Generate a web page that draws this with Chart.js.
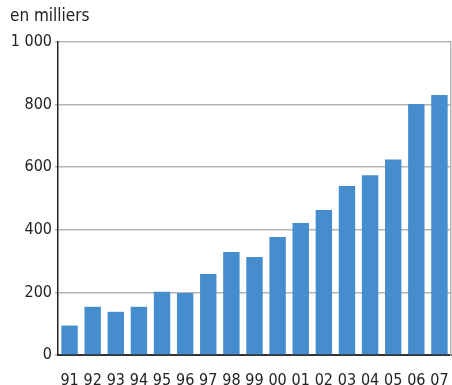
<!DOCTYPE html>
<html>
<head>
<meta charset="utf-8">
<script src="https://cdn.jsdelivr.net/npm/chart.js@4"></script>
<style>
  html, body { margin: 0; padding: 0; background: #fff; }
  #wrap { position: relative; width: 452px; height: 385px; }
  #unit {
    position: absolute; left: 10px; top: 5px;
    font: 17px 'Liberation Sans Narrow', 'DejaVu Sans Condensed', sans-serif;
    color: #222;
  }
</style>
</head>
<body>
<div id="wrap">
  <canvas id="c" width="452" height="385"></canvas>
  <div id="unit">en milliers</div>
</div>
<script>
// Values, in thousands
const years = ['91', '92', '93', '94', '95', '96', '97', '98', '99',
               '00', '01', '02', '03', '04', '05', '06', '07'];
const values = [94, 154, 138, 154, 202, 198, 259, 329, 313,
                377, 422, 463, 540, 574, 625, 802, 831];
const yTicks = [0, 200, 400, 600, 800, 1000];

const FONT = "'Liberation Sans Narrow', 'DejaVu Sans Condensed', sans-serif";
const BAR = '#468dcd';

new Chart(document.getElementById('c'), {
  type: 'bar',
  data: {
    labels: years,
    datasets: [{
      data: values,
      backgroundColor: BAR,
      borderWidth: 0,
      barPercentage: 0.71,
      categoryPercentage: 1.0,
    }],
  },
  options: {
    responsive: false,
    animation: false,
    layout: { padding: { top: 42, right: 1, left: 0, bottom: 0 } },
    plugins: { legend: { display: false }, tooltip: { enabled: false } },
    scales: {
      x: {
        grid: { display: false },
        border: { color: '#333', width: 2 },
        ticks: { color: '#222', font: { family: FONT, size: 16 }, padding: 8, maxRotation: 0 },
        afterFit: (s) => { s.height = 30; s.paddingLeft = 0; s.paddingRight = 0; },
      },
      y: {
        min: 0,
        max: 1000,
        afterBuildTicks: (s) => { s.ticks = yTicks.map((v) => ({ value: v })); },
        grid: {
          color: '#b4b4b4', lineWidth: 1.5,
          drawTicks: true, tickLength: 3, tickColor: '#b4b4b4',
        },
        border: { color: '#222', width: 1.5 },
        ticks: {
          color: '#222', font: { family: FONT, size: 16 }, padding: 3,
          callback: (v) => (v >= 1000 ? '1 000' : String(v)),
        },
        afterFit: (s) => { s.width = 58; s.paddingTop = 0; s.paddingBottom = 0; },
      },
      y2: {
        position: 'right',
        min: 0,
        max: 1000,
        grid: { display: false },
        ticks: { display: false },
        border: { color: '#b4b4b4', width: 1.5 },
        afterFit: (s) => { s.width = 0; },
      },
    },
  },
});
</script>
</body>
</html>
